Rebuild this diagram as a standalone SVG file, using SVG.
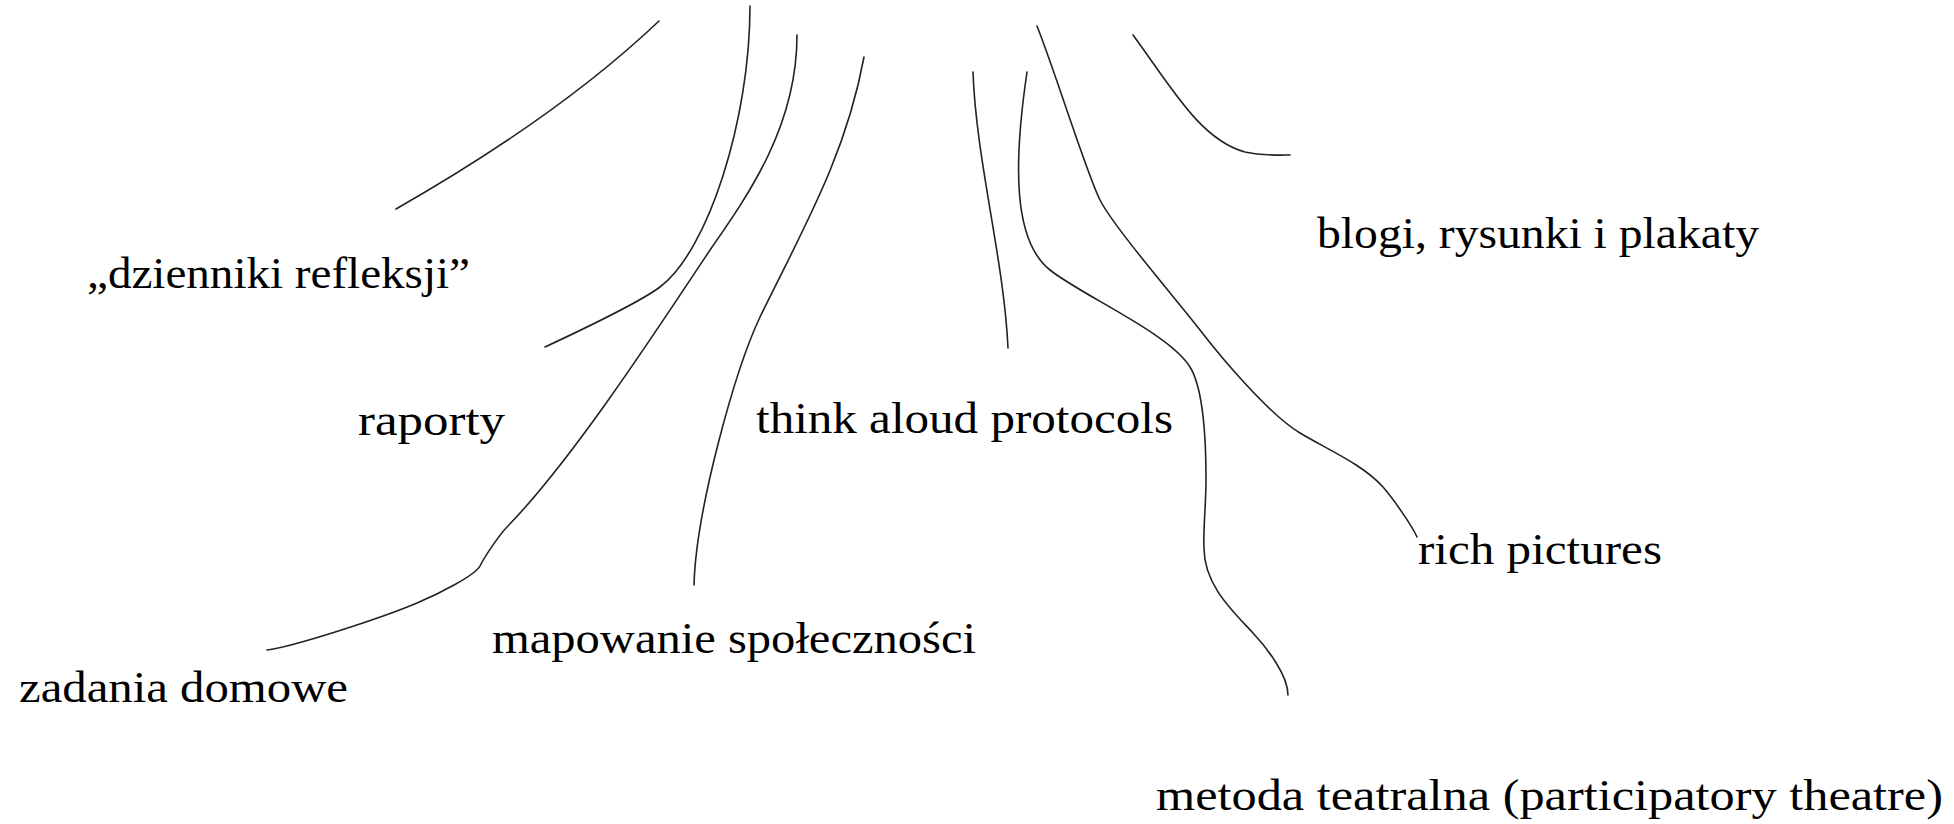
<svg xmlns="http://www.w3.org/2000/svg" width="1954" height="824" viewBox="0 0 1954 824">
<style>
.lbl{font-family:"Liberation Serif","Times New Roman",serif;font-size:44px;fill:#000;}
.ln{fill:none;stroke:#222;stroke-width:1.6;stroke-linecap:round;stroke-linejoin:round;}
</style>
<rect width="1954" height="824" fill="#fff"/>
<g id="connectors">
<path class="ln" d="M659,21 Q559,116 396,209"/>
<path class="ln" d="M750,6 C750,120 708,251 660,287 C640,302 575,333 545,347"/>
<path class="ln" d="M797,35 C797,125 750,192.6 710,250 C649.5,341.3 570,462.2 507,527 C500,534.2 485.4,555.2 480,566 C475.5,575 440,593.3 417,603 C380.2,618.6 292,647 267,650"/>
<path class="ln" d="M864,57 C846,155 804,227 760,317 C735,370 696,510 694,585"/>
<path class="ln" d="M973,72 C976,160 1004,260 1008,348"/>
<path class="ln" d="M1027,72 C1014,160 1012,240 1050,270 C1081,295 1169,333 1190,367 C1203,388 1206,440 1206,480 C1206,505 1203,530 1204,548 C1204,585 1232.6,611 1253,633 C1266.6,647.6 1288,675 1288,695"/>
<path class="ln" d="M1037,26 C1055.5,72.5 1086.5,173.3 1100,200 C1113.5,226.7 1175.6,298.4 1200,330 C1221.4,357.7 1268,413.5 1300,433 C1325.8,448.6 1363.2,464.5 1383,487 C1392.9,498.25 1412.2,526 1417,537"/>
<path class="ln" d="M1133,35 C1170,85 1200,140 1245,152 C1262,156 1280,155 1290,155"/>
</g>
<g id="node-dzienniki"><text class="lbl" x="87" y="288" textLength="383" lengthAdjust="spacingAndGlyphs">„dzienniki refleksji”</text></g>
<g id="node-raporty"><text class="lbl" x="358" y="435" textLength="147" lengthAdjust="spacingAndGlyphs">raporty</text></g>
<g id="node-think"><text class="lbl" x="756" y="433" textLength="417" lengthAdjust="spacingAndGlyphs">think aloud protocols</text></g>
<g id="node-mapowanie"><text class="lbl" x="492" y="653" textLength="484" lengthAdjust="spacingAndGlyphs">mapowanie społeczności</text></g>
<g id="node-zadania"><text class="lbl" x="19" y="702" textLength="329" lengthAdjust="spacingAndGlyphs">zadania domowe</text></g>
<g id="node-blogi"><text class="lbl" x="1317" y="248" textLength="442" lengthAdjust="spacingAndGlyphs">blogi, rysunki i plakaty</text></g>
<g id="node-rich"><text class="lbl" x="1418" y="564" textLength="244" lengthAdjust="spacingAndGlyphs">rich pictures</text></g>
<g id="node-metoda"><text class="lbl" x="1156" y="810" textLength="787" lengthAdjust="spacingAndGlyphs">metoda teatralna (participatory theatre)</text></g>
</svg>
